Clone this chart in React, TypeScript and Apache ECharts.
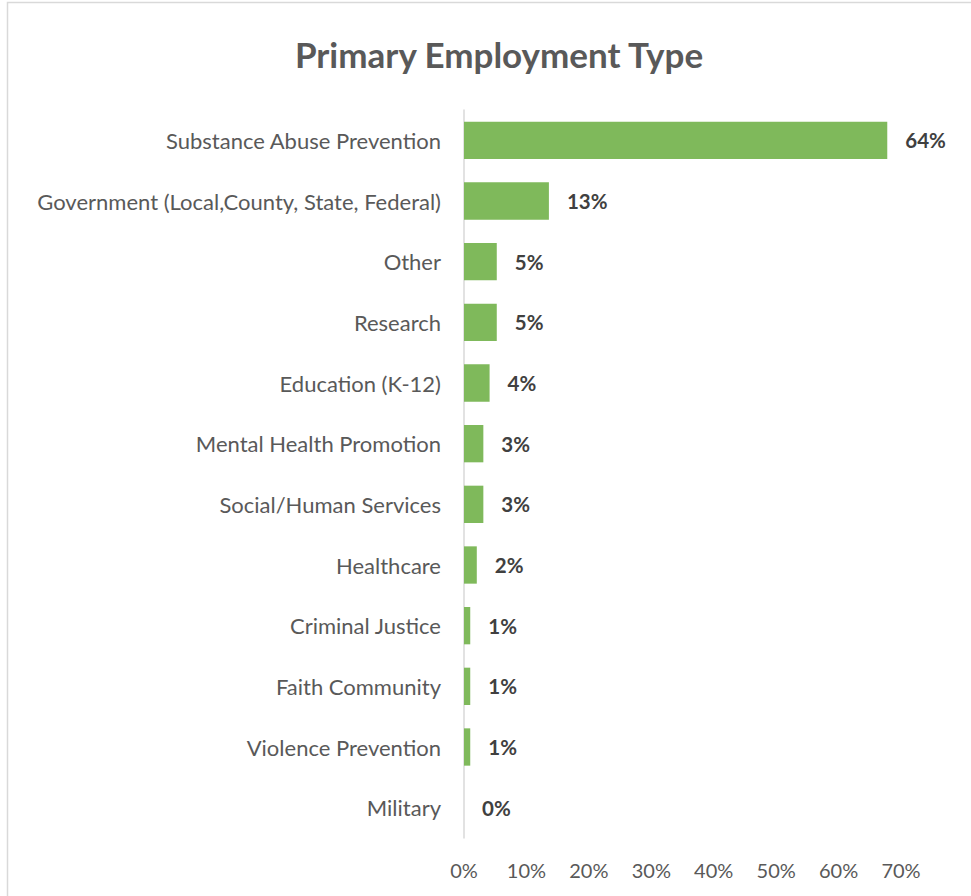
import React, { useEffect, useRef } from "react";
import * as echarts from "echarts";

const titleText = "Primary Employment Type";
const categories = [
  "Substance Abuse Prevention",
  "Government (Local,County, State, Federal)",
  "Other",
  "Research",
  "Education (K-12)",
  "Mental Health Promotion",
  "Social/Human Services",
  "Healthcare",
  "Criminal Justice",
  "Faith Community",
  "Violence Prevention",
  "Military",
];
// bar lengths (percent)
const values = [67.8, 13.6, 5.25, 5.25, 4.1, 3.1, 3.1, 2.05, 1.0, 1.0, 1.0, 0];
// data labels as printed
const labels = ["64%", "13%", "5%", "5%", "4%", "3%", "3%", "2%", "1%", "1%", "1%", "0%"];
const axisMin = 0;
const axisMax = 70;
const axisStep = 10;

const FONT = "Lato, 'Open Sans', sans-serif";

export default function App() {
  const ref = useRef<HTMLDivElement>(null);
  useEffect(() => {
    if (!ref.current) return;
    const chart = echarts.init(ref.current, undefined, { renderer: "svg" });
    chart.setOption({
      animation: false,
      backgroundColor: "#ffffff",
      title: {
        text: titleText,
        left: 494,
        top: 31,
        textAlign: "center",
        textStyle: { fontFamily: FONT, fontSize: 35, fontWeight: "bold", color: "#595959" },
      },
      graphic: [
        {
          type: "rect",
          shape: { x: 7.5, y: 2.5, width: 1100, height: 1100 },
          style: { fill: "none", stroke: "#d9d9d9", lineWidth: 1.5 },
          silent: true,
          z: -1,
        },
      ],
      grid: { left: 464, right: 70, top: 110, bottom: 58, containLabel: false },
      xAxis: {
        type: "value",
        min: axisMin,
        max: axisMax,
        interval: axisStep,
        axisLine: { show: false },
        axisTick: { show: false },
        splitLine: { show: false },
        axisLabel: {
          formatter: (v: number) => `${v}%`,
          color: "#595959",
          fontFamily: FONT,
          fontSize: 20,
          margin: 22,
        },
      },
      yAxis: {
        type: "category",
        data: categories,
        inverse: true,
        axisLine: { show: true, lineStyle: { color: "#d9d9d9", width: 1.5 } },
        axisTick: { show: false },
        axisLabel: { color: "#595959", fontFamily: FONT, fontSize: 22, margin: 23 },
      },
      series: [
        {
          type: "bar",
          data: values,
          barCategoryGap: "38.5%",
          itemStyle: { color: "#7fb95b" },
          label: {
            show: true,
            position: "right",
            distance: 18,
            formatter: (p: any) => labels[p.dataIndex],
            color: "#404040",
            fontFamily: FONT,
            fontSize: 20.5,
            fontWeight: "bold",
          },
        },
      ],
    });
    return () => chart.dispose();
  }, []);
  return (
    <div
      ref={ref}
      style={{ position: "fixed", left: 0, top: 0, width: 971, height: 896 }}
    />
  );
}
